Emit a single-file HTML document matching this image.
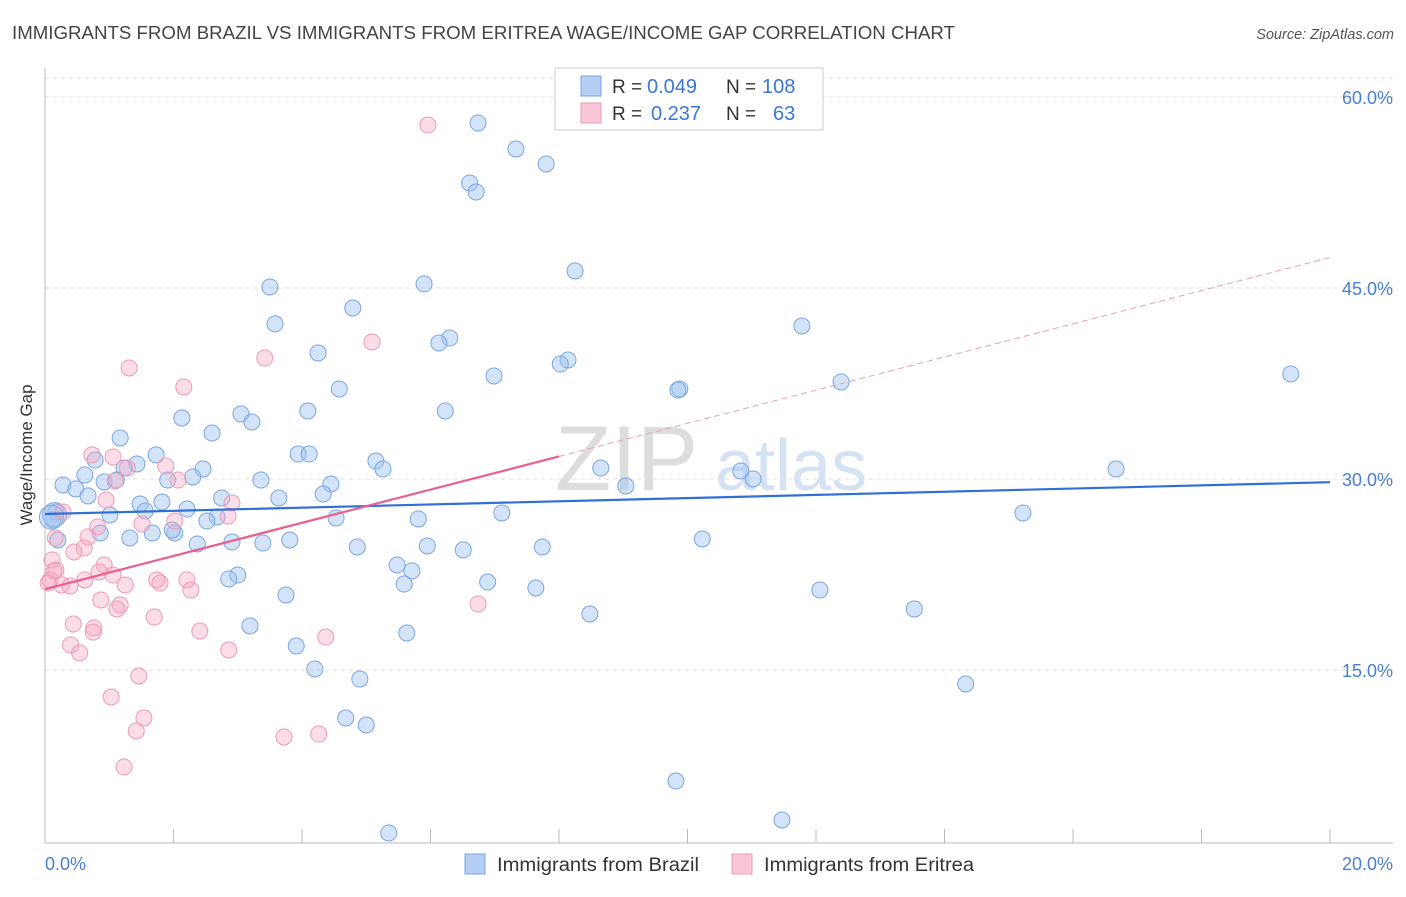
<!DOCTYPE html>
<html><head><meta charset="utf-8"><style>
body{margin:0;background:#fff;font-family:"Liberation Sans",sans-serif;}
svg text{font-family:"Liberation Sans",sans-serif;}
</style></head><body>
<svg id="chart" width="1406" height="892" xmlns="http://www.w3.org/2000/svg">
<text x="12" y="39" font-size="18" fill="#444" textLength="943" lengthAdjust="spacingAndGlyphs">IMMIGRANTS FROM BRAZIL VS IMMIGRANTS FROM ERITREA WAGE/INCOME GAP CORRELATION CHART</text>
<text x="1394" y="39" font-size="14.5" fill="#555" text-anchor="end" font-style="italic">Source: ZipAtlas.com</text>
<g id="grid"></g>
<text x="555" y="490" font-size="92" fill="#ddd" font-family="Liberation Serif">ZIP</text>
<text x="715" y="490" font-size="72" fill="#d4e2f4">atlas</text>
<g id="pts"></g>
<g id="lines"></g>
<text x="32" y="455" font-size="17" fill="#333" text-anchor="middle" transform="rotate(-90 32 455)">Wage/Income Gap</text>
<text x="45" y="870" font-size="18" fill="#4a7fd0">0.0%</text>
<text x="1393" y="870" font-size="18" fill="#4a7fd0" text-anchor="end">20.0%</text>
<g>
<rect x="555" y="68" width="268" height="62" fill="#fff" stroke="#ccc"/>
<rect x="581" y="76" width="20" height="20" fill="#b4cff3" stroke="#7aa6e0"/>
<rect x="581" y="103" width="20" height="20" fill="#f8c6d6" stroke="#ee9ab5"/>
<text x="612" y="93" font-size="19" fill="#333">R =</text>
<text x="647" y="93" font-size="20" fill="#3b78d4">0.049</text>
<text x="726" y="93" font-size="19" fill="#333">N =</text>
<text x="762" y="93" font-size="20" fill="#3b78d4">108</text>
<text x="612" y="120" font-size="19" fill="#333">R =</text>
<text x="651" y="120" font-size="20" fill="#3b78d4">0.237</text>
<text x="726" y="120" font-size="19" fill="#333">N =</text>
<text x="773" y="120" font-size="20" fill="#3b78d4">63</text>
</g>
<g>
<rect x="465" y="854" width="20" height="20" fill="#b4cff3" stroke="#7aa6e0"/>
<text x="497" y="871" font-size="19" fill="#333" textLength="202" lengthAdjust="spacingAndGlyphs">Immigrants from Brazil</text>
<rect x="732" y="854" width="20" height="20" fill="#f8c6d6" stroke="#ee9ab5"/>
<text x="764" y="871" font-size="19" fill="#333" textLength="210" lengthAdjust="spacingAndGlyphs">Immigrants from Eritrea</text>
</g>
</svg>
<script>
const yTicks=[15,30,45,60];
const xTickCount=10;
const brazilX=[6.74,7.33,7.80,6.61,6.71,8.25,3.50,5.90,4.79,3.58,11.78,6.30,6.13,4.25,8.14,8.02,6.99,12.39,9.88,9.85,19.39,4.58,4.09,6.23,2.13,3.05,3.22,2.60,1.17,1.73,3.94,4.11,5.15,5.26,0.78,1.43,1.23,2.46,8.65,10.83,11.02,16.67,9.04,3.36,2.30,1.91,4.45,4.33,0.62,0.28,0.48,0.67,0.92,1.11,3.64,2.75,1.48,1.82,1.56,2.21,2.68,2.52,1.01,0.17,0.12,7.11,5.81,4.53,15.22,0.86,1.32,1.67,2.02,1.98,2.37,2.91,3.39,3.81,4.86,5.95,6.51,7.74,10.23,0.20,5.48,5.71,3.00,2.86,6.89,5.59,7.64,12.06,3.75,8.48,13.53,3.19,5.63,3.91,4.20,4.90,14.33,4.68,5.00,9.82,11.47,5.35,0.15,0.10];
const brazilY=[57.96,55.92,54.74,53.25,52.54,46.34,45.08,45.32,43.43,42.18,42.02,41.07,40.68,39.90,39.35,39.03,38.09,37.62,37.07,36.99,38.25,37.07,35.34,35.34,34.79,35.11,34.48,33.61,33.22,31.89,31.96,31.96,31.41,30.79,31.49,31.18,30.86,30.79,30.86,30.63,30.00,30.79,29.45,29.92,30.16,29.92,29.61,28.82,30.31,29.53,29.22,28.67,29.77,29.92,28.51,28.51,28.04,28.19,27.49,27.64,27.02,26.70,27.17,27.41,26.78,27.33,26.86,26.94,27.33,25.76,25.37,25.76,25.76,25.99,24.90,25.05,24.97,25.21,24.66,24.74,24.43,24.66,25.29,25.21,23.25,22.78,22.46,22.15,21.91,21.75,21.44,21.28,20.89,19.40,19.79,18.46,17.91,16.89,15.08,14.29,13.90,11.23,10.68,6.28,3.22,2.20,27.2,27.0];
const eritreaX=[5.96,1.31,5.09,3.42,2.16,0.73,1.06,1.28,1.88,2.07,1.09,0.95,0.28,2.91,2.85,2.02,1.51,0.82,0.67,0.16,0.61,0.45,0.11,0.17,0.92,0.84,1.06,0.62,0.26,0.39,1.25,1.74,1.79,2.21,2.27,0.87,1.17,1.12,6.74,1.70,0.44,0.76,0.75,2.41,4.37,0.40,0.54,2.86,1.46,1.03,1.54,1.42,3.72,4.26,1.23,0.08,0.05,0.14];
const eritreaY=[57.80,38.72,40.76,39.50,37.23,31.89,31.73,30.86,31.02,29.92,29.84,28.35,27.41,28.12,27.09,26.70,26.47,26.23,25.45,25.37,24.58,24.27,23.64,22.85,23.25,22.70,22.46,22.07,21.68,21.60,21.68,22.07,21.83,22.07,21.28,20.50,20.11,19.79,20.18,19.16,18.61,18.30,17.98,18.06,17.59,16.96,16.34,16.57,14.53,12.88,11.23,10.21,9.74,9.97,7.38,22.07,21.83,22.78];
const brazilTrend=[27.25,29.75];
const eritreaTrend=[21.35,47.4];
const eritreaSolidEnd=8.0;

const X0=45,X1=1330,Y0=861,PXPER=191/15;
const sx=v=>X0+(v/20)*(X1-X0);
const sy=v=>Y0-v*PXPER;
const NS="http://www.w3.org/2000/svg";
function mk(tag,attrs,parent){const e=document.createElementNS(NS,tag);for(const k in attrs)e.setAttribute(k,attrs[k]);parent.appendChild(e);return e;}
const grid=document.getElementById('grid');
let l=mk('line',{x1:45,y1:78,x2:1393,y2:78,stroke:'#ddd','stroke-dasharray':'4,4'},grid);


yTicks.forEach(t=>{
 const g=mk('line',{x1:45,y1:sy(t),x2:1393,y2:sy(t),stroke:'#ddd','stroke-dasharray':'4,4'},grid);
 
 
 const tx=mk('text',{x:1393,y:sy(t)+7,'font-size':18,fill:'#4a7fd0','text-anchor':'end'},grid);
 tx.textContent=t.toFixed(1)+'%';
 
 
});
const ax=mk('line',{x1:45,y1:68,x2:45,y2:843,stroke:'#bbb'},grid);


const bx=mk('line',{x1:45,y1:843,x2:1393,y2:843,stroke:'#bbb'},grid);


for(let i=0;i<=xTickCount;i++){
 const v=20*i/xTickCount;
 const t=mk('line',{x1:sx(v),y1:829,x2:sx(v),y2:843,stroke:'#bbb'},grid);
 
 
}
const pts=document.getElementById('pts');
brazilX.forEach((x,i)=>{
 const big=i>=brazilX.length-2;
 const c=mk('circle',{cx:sx(x),cy:sy(brazilY[i]),r:big?12:8,fill:'rgba(160,195,240,0.45)',stroke:'#7aa6e0','stroke-width':1},pts);
 
 
});
eritreaX.forEach((x,i)=>{
 const c=mk('circle',{cx:sx(x),cy:sy(eritreaY[i]),r:8,fill:'rgba(245,170,195,0.4)',stroke:'#ee9ab5','stroke-width':1},pts);
 
 
});
const lines=document.getElementById('lines');
const b=mk('line',{x1:sx(0),y1:sy(brazilTrend[0]),x2:sx(20),y2:sy(brazilTrend[1]),stroke:'#2f6fd6','stroke-width':2.2},lines);


const ey=v=>eritreaTrend[0]+(eritreaTrend[1]-eritreaTrend[0])*v/20;
const e1=mk('line',{x1:sx(0),y1:sy(ey(0)),x2:sx(eritreaSolidEnd),y2:sy(ey(eritreaSolidEnd)),stroke:'#e8608f','stroke-width':2.2},lines);


const e2=mk('line',{x1:sx(eritreaSolidEnd),y1:sy(ey(eritreaSolidEnd)),x2:sx(20),y2:sy(ey(20)),stroke:'#eaa0b8','stroke-width':1,'stroke-dasharray':'6,4'},lines);


</script>
</body></html>
